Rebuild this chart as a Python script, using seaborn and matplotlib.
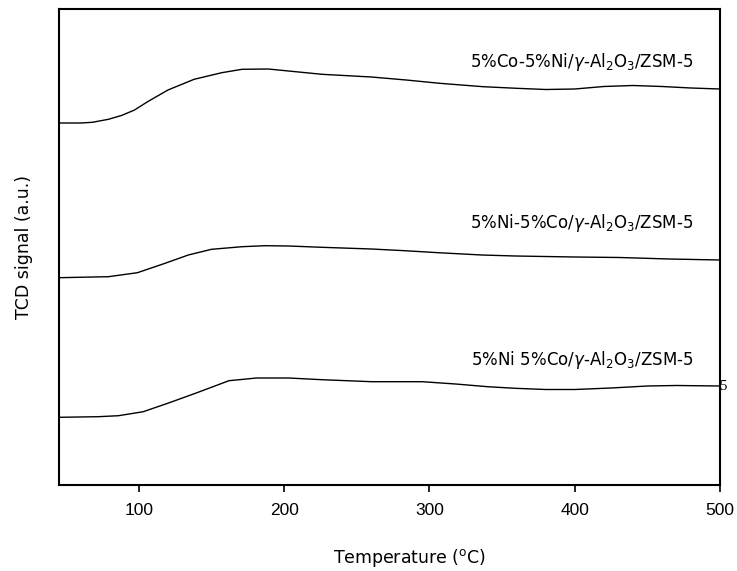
import matplotlib
matplotlib.use("Agg")
import matplotlib.pyplot as plt
import seaborn as sns
import pandas as pd

# ---- data ----
temp_top = [45, 60, 68, 79, 88, 97, 106, 120, 138, 157, 171, 189, 203, 226, 260, 284, 307, 337, 360, 380, 400, 420, 440, 460, 480, 500]
sig_top = [362, 362, 362.7, 365.7, 369.5, 375, 383.3, 395, 405.7, 412.3, 415.7, 416, 414, 410.7, 408, 405, 401.7, 398.3, 396.7, 395.5, 396, 398.5, 399.5, 398.5, 397, 396]

temp_mid = [45, 79, 99, 118, 134, 150, 171, 187, 203, 226, 260, 283, 306, 336, 359, 400, 431, 465, 500]
sig_mid = [207.3, 208.3, 212.3, 221.7, 230, 235.7, 238.3, 239.3, 239, 237.7, 236, 234.3, 232.3, 230, 229, 228, 227.5, 226, 225]

temp_bot = [45, 72, 86, 103, 121, 140, 162, 181, 203, 226, 260, 295, 318, 340, 359, 380, 400, 425, 450, 470, 500]
sig_bot = [67.7, 68.3, 69.3, 73.3, 82.3, 92.3, 104.3, 107, 107, 105.3, 103.3, 103.3, 101, 98.3, 96.7, 95.5, 95.5, 97, 99, 99.5, 99]

labels = ["5%Co-5%Ni/$\\gamma$-Al$_2$O$_3$/ZSM-5",
          "5%Ni-5%Co/$\\gamma$-Al$_2$O$_3$/ZSM-5",
          "5%Ni 5%Co/$\\gamma$-Al$_2$O$_3$/ZSM-5"]
label_y = [423, 262, 125]
xticks = [100, 200, 300, 400, 500]

sns.set_style("white")
plt.rcParams["font.family"] = ["DejaVu Sans"]
plt.rcParams["mathtext.fontset"] = "dejavusans"
plt.rcParams["text.color"] = "black"
plt.rcParams["axes.labelcolor"] = "black"
plt.rcParams["xtick.color"] = "black"

fig = plt.figure(figsize=(7.37, 5.71), dpi=100)
ax = fig.add_axes([59 / 737, 86 / 571, 661 / 737, 476 / 571])

for t, s in [(temp_top, sig_top), (temp_mid, sig_mid), (temp_bot, sig_bot)]:
    df = pd.DataFrame({"T": t, "S": s})
    sns.lineplot(data=df, x="T", y="S", ax=ax, color="black", linewidth=1.0, legend=False)

for lab, y in zip(labels, label_y):
    ax.text(405, y, lab, ha="center", va="center", fontsize=12, color="black")

ax.text(499.5, sig_bot[-1], "5", ha="left", va="center", fontsize=10.5, family="Liberation Serif",
        clip_on=False, zorder=0, color="black")

ax.set_xlim(45, 500)
ax.set_ylim(0, 476)
ax.set_xticks(xticks)
ax.set_xticklabels([str(v) for v in xticks], family="Liberation Sans", fontsize=12.5, color="black")
ax.set_yticks([])
ax.tick_params(axis="x", direction="out", length=5, width=1.2, pad=8, bottom=True)
for sp in ax.spines.values():
    sp.set_linewidth(1.5)
    sp.set_color("black")

ax.set_xlabel("Temperature ($^{\\mathrm{o}}$C)", fontsize=12.5, labelpad=12)
ax.xaxis.set_label_coords(0.53, -0.13)
ax.set_ylabel("TCD signal (a.u.)", fontsize=12.5)
ax.yaxis.set_label_coords(-0.039, 0.5)

fig.savefig("out.png", dpi=100)
